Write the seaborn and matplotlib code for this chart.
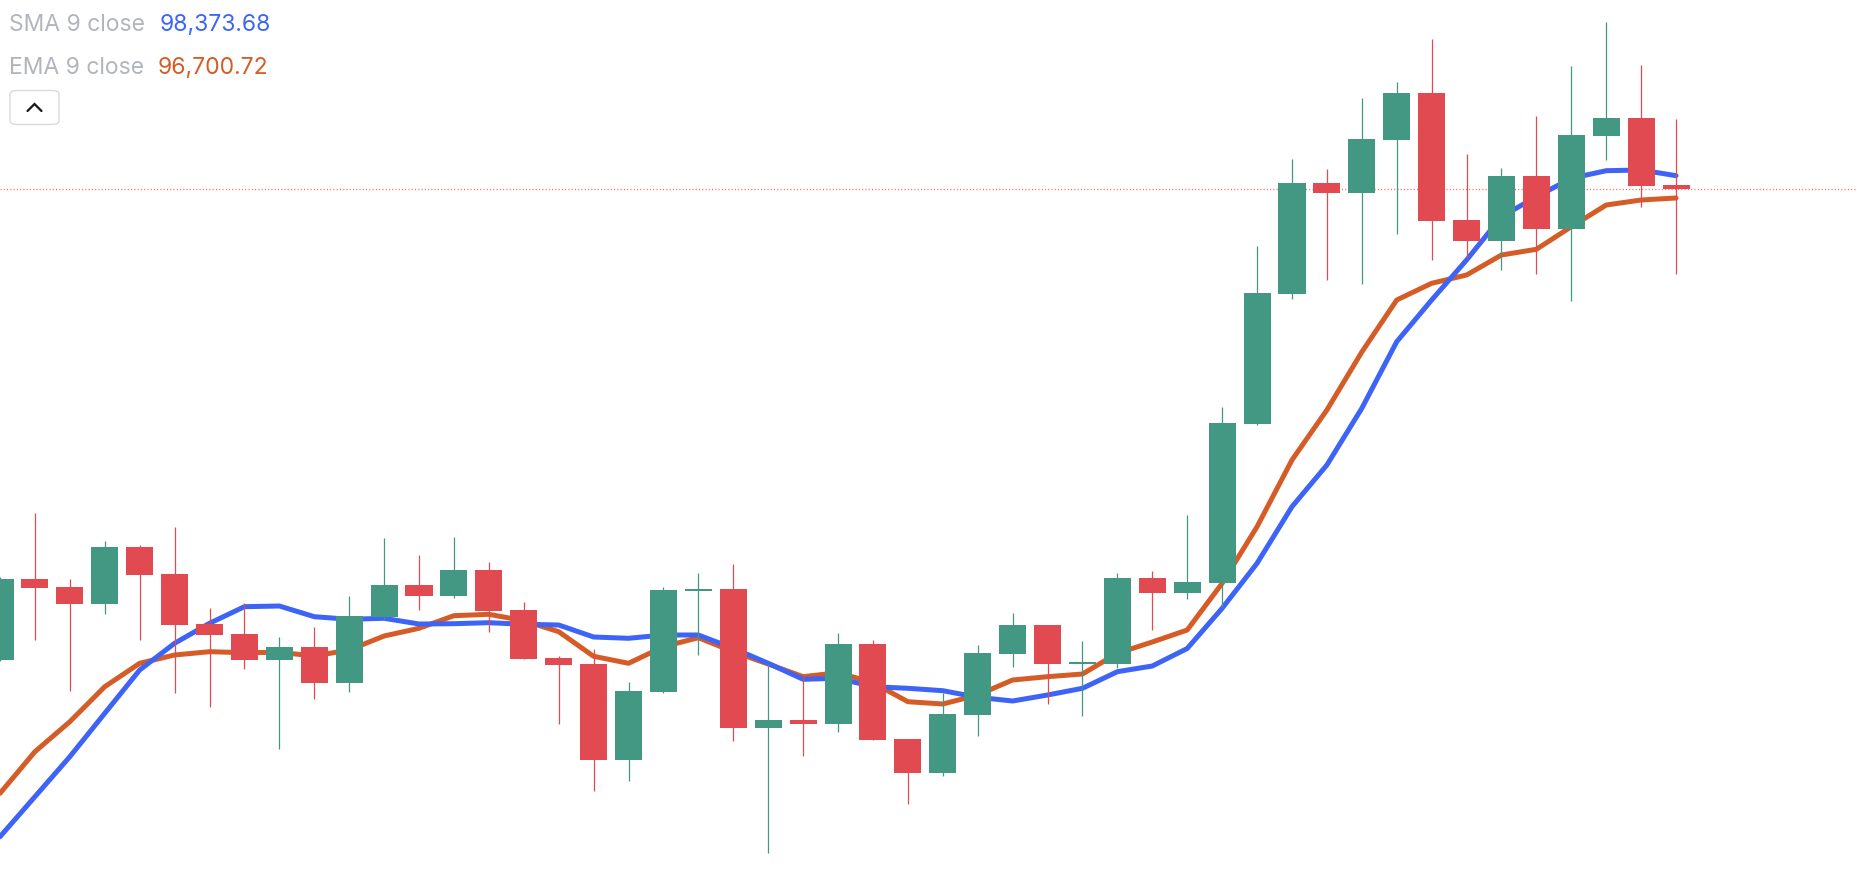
import numpy as np
import pandas as pd
import matplotlib
matplotlib.use("Agg")
import matplotlib.pyplot as plt
import seaborn as sns
from matplotlib.patches import FancyBboxPatch
from matplotlib.lines import Line2D

# ---------------- data ----------------
opens = [62073, 68125, 67525, 66273, 70525, 68500, 64750, 64000, 62073, 63025,
         60348, 65275, 67675, 66873, 68800, 65800, 62200, 61750, 54573, 59673,
         67248, 67375, 56950, 57550, 57273, 63250, 56125, 53598, 57948, 62523,
         64675, 61773, 61773, 68200, 67098, 67848, 79773, 89500, 97825, 97098,
         101050, 104575, 95050, 93498, 98350, 94375, 101350, 102700, 97675]
highs = [68275, 73075, 68125, 70975, 70675, 72025, 65950, 66325, 63775, 64525,
         66850, 71200, 69925, 71275, 69400, 66400, 62350, 62875, 60400, 67503,
         68575, 69250, 61750, 60798, 64075, 63550, 56125, 59553, 63175, 65575,
         64675, 63475, 68575, 68725, 72925, 81025, 93100, 99625, 98875, 104200,
         105400, 108625, 100000, 98950, 102850, 106600, 109900, 106675, 102625]
lows = [61975, 63573, 59748, 65523, 63573, 59598, 58548, 61398, 55398, 59148,
        59673, 65125, 65823, 66723, 64173, 62148, 57273, 52248, 52998, 59598,
        62448, 55998, 47598, 54850, 56673, 56073, 51273, 53350, 56373, 61548,
        58773, 57873, 61473, 64323, 66648, 66003, 79698, 89125, 90550, 90250,
        94000, 92050, 92200, 91300, 91000, 88975, 99550, 96048, 91000]
closes = [68125, 67473, 66273, 70525, 68448, 64698, 63948, 62073, 63025, 60348,
          65350, 67675, 66873, 68800, 65748, 62148, 61698, 54573, 59725, 67300,
          67375, 56950, 57550, 57273, 63250, 56073, 53598, 58000, 62575, 64675,
          61773, 61825, 68200, 67098, 67900, 79825, 89575, 97825, 97098, 101125,
          104575, 94998, 93498, 98350, 94375, 101425, 102700, 97600, 97338]
sma9 = [48798, 51798, 54798, 58053, 61300, 63303, 64803, 66048, 66100, 65298,
        65103, 65178, 64750, 64773, 64848, 64728, 64675, 63775, 63678, 63925,
        63925, 62928, 61803, 60603, 60678, 60048, 59928, 59748, 59253, 58975,
        59425, 59928, 61173, 61600, 62913, 65928, 69303, 73548, 76675, 80928,
        85923, 89050, 92050, 95298, 96798, 98178, 98748, 98800, 98373.68]
ema9 = [52053, 55173, 57423, 60048, 61803, 62425, 62673, 62598, 62628, 62350,
        62800, 63850, 64428, 65373, 65478, 64998, 64173, 62328, 61803, 63048,
        63723, 62673, 61750, 60798, 61098, 60348, 58923, 58750, 59425, 60550,
        60798, 61000, 62553, 63400, 64300, 67803, 72048, 77050, 80800, 85150,
        89050, 90303, 90925, 92425, 92853, 94548, 96175, 96550, 96700.72]

legend_labels = ["SMA 9 close", "EMA 9 close"]
legend_values = ["98,373.68", "96,700.72"]

# ---------------- style ----------------
GREEN = "#439884"
RED = "#E04A50"
BLUE = "#3D64F6"
ORANGE = "#D65C27"
GRAY = "#B2B5BE"

sns.set_theme(style="white")
plt.rcParams["font.family"] = ["Inter", "DejaVu Sans"]

W, H = 1858, 880
fig = plt.figure(figsize=(W / 100, H / 100), dpi=100)
fig.patch.set_facecolor("white")
ax = fig.add_axes([0, 0, 1, 1])
ax.set_facecolor("white")

df = pd.DataFrame({"open": opens, "high": highs, "low": lows, "close": closes,
                   "sma": sma9, "ema": ema9})
df["idx"] = np.arange(len(df))
up = df["close"] >= df["open"]
cols = np.where(up, GREEN, RED)

# last-price dotted line
ax.axhline(closes[-1], color=RED, lw=1.0, linestyle=(0, (0.75, 1.6)), alpha=0.8, zorder=1)

# moving averages (drawn beneath the candles)
sns.lineplot(data=df, x="idx", y="ema", color=ORANGE, lw=3.6, ax=ax, zorder=2)
sns.lineplot(data=df, x="idx", y="sma", color=BLUE, lw=3.6, ax=ax, zorder=3)

# wicks
ax.vlines(df["idx"], df["low"], df["high"], colors=cols, lw=0.9, zorder=4)
# bodies
bottom = np.minimum(df["open"], df["close"])
height = np.maximum((df["close"] - df["open"]).abs(), 90)
ax.bar(df["idx"], height, bottom=bottom, width=0.775, color=cols, linewidth=0, zorder=5)

ax.set_xlim(0, 53.21)
ax.set_ylim(45550, 111550)
ax.axis("off")

# ---------------- legend text ----------------
def fx(px):
    return px / W

def fy(py):
    return 1 - py / H

fig.text(fx(9), fy(25), legend_labels[0], color=GRAY, fontsize=16.5, va="center", ha="left")
fig.text(fx(160), fy(25), legend_values[0], color=BLUE, fontsize=16.5, va="center", ha="left")
fig.text(fx(9), fy(68.5), legend_labels[1], color=GRAY, fontsize=16.5, va="center", ha="left")
fig.text(fx(158), fy(68.5), legend_values[1], color=ORANGE, fontsize=16.5, va="center", ha="left")

# collapse button
btn = FancyBboxPatch((fx(10), fy(124.5)), fx(49), 34 / H,
                     boxstyle="round,pad=0,rounding_size=0.004",
                     transform=fig.transFigure, facecolor="white",
                     edgecolor="#D8DAE0", lw=1.0)
fig.patches.append(btn)
fig.lines.append(Line2D([fx(27.5), fx(34.5), fx(41.5)], [fy(111), fy(104), fy(111)],
                        transform=fig.transFigure, color="#131722", lw=1.6,
                        solid_capstyle="round", solid_joinstyle="miter"))

fig.savefig("out.png", dpi=100, facecolor="white")
